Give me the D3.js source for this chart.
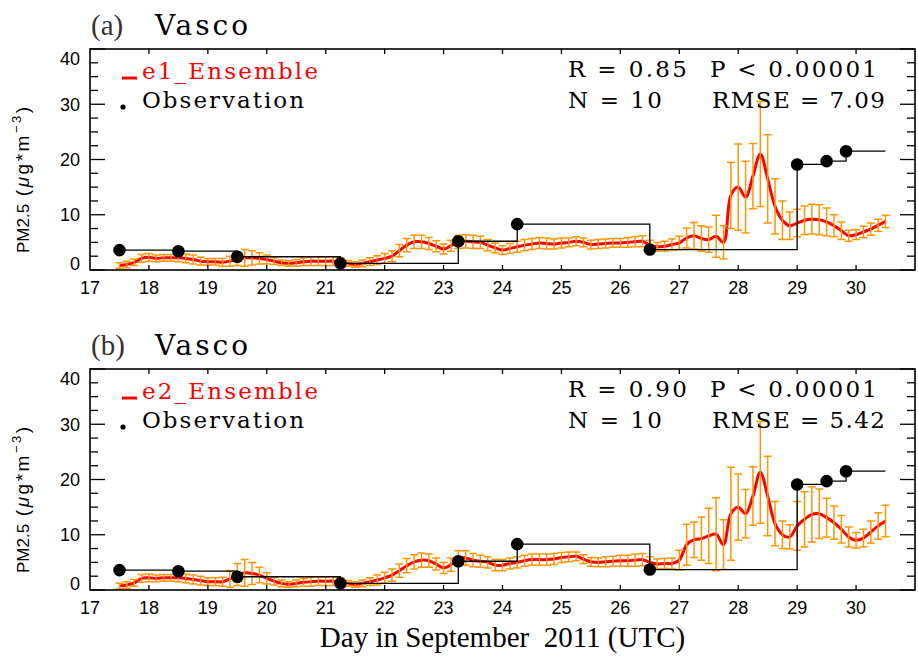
<!DOCTYPE html>
<html lang="en">
<head>
  <meta charset="utf-8">
  <title>PM2.5 Vasco</title>
  <script src="https://cdn.jsdelivr.net/npm/d3@7"></script>
  <style>
    body { margin: 0; background: #fff; }
  </style>
</head>
<body>
<script>
// ensemble output every 3 hours starting 17.5
var startDay = 17.5, stepDay = 3 / 24;

var e1Mean = [
  0.8, 1.0, 1.4, 2.1, 2.3, 2.1, 2.2, 2.2,
  2.2, 2.1, 1.9, 1.6, 1.5, 1.5, 1.4, 1.6,
  2.0, 2.2, 2.2, 2.1, 1.9, 1.6, 1.3, 1.2,
  1.3, 1.5, 1.6, 1.6, 1.6, 1.6, 1.5, 1.2,
  1.0, 1.2, 1.5, 1.8, 2.1, 2.5, 3.5, 4.5,
  5.1, 5.1, 4.8, 4.3, 3.8, 4.4, 5.1, 5.2,
  5.1, 5.0, 4.5, 4.0, 3.6, 3.9, 4.2, 4.5,
  4.7, 4.9, 4.8, 4.7, 4.9, 5.0, 5.2, 5.0,
  4.6, 4.7, 4.8, 4.9, 4.9, 5.0, 5.1, 5.2,
  4.5, 4.2, 4.3, 4.6, 4.9, 5.8, 6.2, 5.7,
  5.5, 6.1, 5.0, 13.5, 15.0, 13.2, 17.0, 21.0,
  16.5, 11.5, 9.0, 8.0, 8.5, 9.0, 9.2, 9.1,
  8.7, 8.0, 7.1, 6.2, 6.4, 6.9, 7.4, 8.1,
  8.8
];
var e1Err = [
  0.5, 0.6, 0.6, 0.7, 0.7, 0.6, 0.6, 0.6,
  0.7, 0.8, 0.8, 0.7, 0.6, 0.6, 0.7, 0.9,
  1.2, 1.5, 1.3, 1.0, 0.8, 0.6, 0.5, 0.5,
  0.6, 0.7, 0.8, 0.8, 0.8, 0.8, 0.7, 0.5,
  0.5, 0.6, 0.7, 0.8, 0.9, 1.0, 1.1, 1.2,
  1.2, 1.2, 1.1, 1.0, 0.9, 1.0, 1.2, 1.2,
  1.2, 1.1, 1.0, 0.9, 0.8, 0.9, 1.0, 1.0,
  1.0, 1.0, 1.0, 0.9, 0.9, 0.8, 0.8, 0.8,
  0.8, 0.8, 0.8, 0.8, 0.8, 0.9, 0.9, 1.0,
  0.9, 0.8, 0.9, 1.0, 1.2, 1.8, 2.4, 2.3,
  2.3, 3.8, 3.0, 6.0, 7.8, 6.5, 5.9, 9.5,
  8.0, 5.0, 3.5, 2.5, 2.5, 2.6, 2.7, 2.7,
  2.5, 2.0, 1.6, 1.0, 0.9, 1.0, 1.1, 1.1,
  1.1
];
var e2Mean = [
  0.7, 0.9, 1.3, 2.1, 2.2, 2.1, 2.2, 2.2,
  2.2, 2.1, 1.9, 1.7, 1.5, 1.5, 1.5, 2.0,
  2.8, 3.1, 3.0, 2.7, 2.1, 1.6, 1.2, 1.0,
  1.2, 1.4, 1.5, 1.6, 1.6, 1.6, 1.5, 1.2,
  1.0, 1.2, 1.5, 1.8, 2.2, 2.7, 3.5, 4.4,
  5.1, 5.4, 5.3, 4.7, 4.0, 4.6, 5.8, 5.8,
  5.4, 5.2, 5.0, 4.5, 4.5, 4.8, 5.0, 5.3,
  5.5, 5.5, 5.5, 5.6, 5.9, 6.0, 6.1, 5.6,
  5.1, 5.0, 5.1, 5.2, 5.3, 5.3, 5.4, 5.5,
  5.0, 4.7, 4.8, 4.8, 5.4, 8.2, 9.1, 9.3,
  9.8, 10.1, 8.2, 13.8, 15.0, 13.8, 17.0, 21.3,
  17.0, 12.0, 10.0, 9.6, 11.6, 12.8, 13.7, 13.8,
  13.1, 12.2, 11.0, 9.6, 9.0, 9.4, 10.5, 11.6,
  12.5
];
var e2Err = [
  0.5, 0.6, 0.6, 0.7, 0.7, 0.6, 0.6, 0.6,
  0.7, 0.8, 0.8, 0.8, 0.7, 0.7, 0.8, 1.5,
  2.0, 2.4, 2.0, 1.4, 1.0, 0.7, 0.6, 0.5,
  0.6, 0.7, 0.8, 0.8, 0.8, 0.8, 0.7, 0.5,
  0.5, 0.6, 0.7, 0.9, 1.0, 1.1, 1.2, 1.3,
  1.3, 1.3, 1.2, 1.1, 1.0, 1.2, 1.3, 1.3,
  1.2, 1.1, 1.0, 1.0, 1.0, 1.0, 1.0, 1.0,
  1.0, 1.0, 1.0, 1.0, 0.9, 0.9, 0.8, 0.8,
  0.8, 0.8, 0.9, 0.9, 1.0, 1.0, 1.1, 1.1,
  1.0, 0.9, 0.9, 1.0, 1.8, 3.7, 3.2, 3.9,
  5.0, 6.6, 4.5, 8.4, 6.0, 4.4, 5.3, 9.2,
  7.2, 4.0, 2.5, 2.2, 4.4, 5.0, 5.0, 4.5,
  3.5, 3.0, 2.5, 1.8, 1.4, 1.6, 2.0, 2.4,
  2.85
];

// observations (same for both panels)
var obsDay = [17.5, 18.5, 19.5, 21.25, 23.25, 24.25, 26.5, 29.0, 29.5, 29.83];
var obsVal = [3.6, 3.4, 2.4, 1.2, 5.2, 8.3, 3.7, 19.1, 19.7, 21.5];
var obsEnd = 30.5;

var xTicks = [17, 18, 19, 20, 21, 22, 23, 24, 25, 26, 27, 28, 29, 30];
var yTicks = [0, 10, 20, 30, 40];

var panels = [
  { tag: "(a)", site: "Vasco", name: "e1_Ensemble", mean: e1Mean, err: e1Err,
    r: "R = 0.85", p: "P < 0.00001", n: "N = 10", rmse: "RMSE = 7.09" },
  { tag: "(b)", site: "Vasco", name: "e2_Ensemble", mean: e2Mean, err: e2Err,
    r: "R = 0.90", p: "P < 0.00001", n: "N = 10", rmse: "RMSE = 5.42" }
];

var width = 918, height = 656;
var left = 90, right = 915, top0 = 49, panelH = 221, panelGap = 320;

var svg = d3.select("body").append("svg")
    .attr("width", width)
    .attr("height", height);

var x = d3.scaleLinear().domain([17, 31]).range([left, right]);
var y = d3.scaleLinear().domain([0, 40]).range([panelH, 0]);

var serif = "'DejaVu Serif', serif";
var sans = "'Liberation Sans', Arial, sans-serif";
var orange = "#ff9505";

// wide, evenly spaced serif text like the plotting package's vector font
function wideText(g, tx, ty, str, len, size, color) {
  return g.append("text").attr("x", tx).attr("y", ty)
    .attr("font-family", serif).attr("font-size", size)
    .attr("fill", color || "#000")
    .attr("textLength", len).attr("lengthAdjust", "spacing")
    .attr("xml:space", "preserve")
    .text(str);
}

panels.forEach(function(p, pi) {
  var g = svg.append("g").attr("transform", "translate(0," + (top0 + pi * panelGap) + ")");

  var pts = p.mean.map(function(v, i) {
    return { day: startDay + i * stepDay, v: v, e: p.err[i] };
  });

  // title
  g.append("text").attr("x", 91).attr("y", -14)
    .attr("font-family", "'Liberation Serif', serif").attr("font-size", 29)
    .attr("fill", "#333").text(p.tag);
  wideText(g, 155, -14, p.site, 93, 28);

  // ensemble line
  var line = d3.line()
      .x(function(d) { return x(d.day); })
      .y(function(d) { return y(d.v); })
      .curve(d3.curveCatmullRom);
  g.append("path").datum(pts)
    .attr("d", line)
    .attr("fill", "none")
    .attr("stroke", "#ff0000")
    .attr("stroke-width", 3);

  // error bars
  var eb = g.append("g").attr("stroke", orange).attr("stroke-width", 1.5).attr("fill", "none");
  eb.selectAll("path").data(pts).enter().append("path")
    .attr("d", function(d) {
      var cx = x(d.day), y1 = y(d.v + d.e), y2 = y(Math.max(0, d.v - d.e));
      return "M" + cx + "," + y1 + "V" + y2 +
             "M" + (cx - 4) + "," + y1 + "H" + (cx + 4) +
             "M" + (cx - 4) + "," + y2 + "H" + (cx + 4);
    });

  // observations step line
  var obs = obsDay.map(function(d, i) { return { day: d, v: obsVal[i] }; });
  var stepPts = obs.concat([{ day: obsEnd, v: obsVal[obsVal.length - 1] }]);
  g.append("path").datum(stepPts)
    .attr("d", d3.line()
      .x(function(d) { return x(d.day); })
      .y(function(d) { return y(d.v); })
      .curve(d3.curveStepAfter))
    .attr("fill", "none")
    .attr("stroke", "#000")
    .attr("stroke-width", 1.3);

  g.selectAll("circle.obs").data(obs).enter().append("circle")
    .attr("class", "obs")
    .attr("cx", function(d) { return x(d.day); })
    .attr("cy", function(d) { return y(d.v); })
    .attr("r", 6.3)
    .attr("fill", "#000");

  // frame
  g.append("rect").attr("x", left).attr("y", 0)
    .attr("width", right - left).attr("height", panelH)
    .attr("fill", "none").attr("stroke", "#000").attr("stroke-width", 1.6);

  // x ticks (bottom and top, inward)
  var xt = g.append("g").attr("stroke", "#000").attr("stroke-width", 1.3);
  xt.selectAll("line.b").data(xTicks.slice(1)).enter().append("line")
    .attr("x1", function(d) { return x(d); }).attr("x2", function(d) { return x(d); })
    .attr("y1", panelH).attr("y2", panelH - 5);
  xt.selectAll("line.t").data(xTicks.slice(1)).enter().append("line")
    .attr("x1", function(d) { return x(d); }).attr("x2", function(d) { return x(d); })
    .attr("y1", 0).attr("y2", 5);

  g.selectAll("text.xl").data(xTicks).enter().append("text")
    .attr("class", "xl")
    .attr("x", function(d) { return x(d); })
    .attr("y", panelH + 24)
    .attr("text-anchor", "middle")
    .attr("font-family", sans)
    .attr("font-size", 18)
    .text(function(d) { return d; });

  // y ticks, major and minor, on both sides
  var minor = d3.range(0, 40.01, 2.5);
  var yt = g.append("g").attr("stroke", "#000").attr("stroke-width", 1.3);
  yt.selectAll("line.l").data(minor).enter().append("line")
    .attr("x1", left).attr("x2", function(d) { return left + (d % 10 === 0 ? 15 : 8); })
    .attr("y1", function(d) { return y(d); }).attr("y2", function(d) { return y(d); });
  yt.selectAll("line.r").data(minor).enter().append("line")
    .attr("x1", right).attr("x2", function(d) { return right - (d % 10 === 0 ? 15 : 8); })
    .attr("y1", function(d) { return y(d); }).attr("y2", function(d) { return y(d); });

  g.selectAll("text.yl").data(yTicks).enter().append("text")
    .attr("class", "yl")
    .attr("x", 80)
    .attr("y", function(d) {
      var yy = y(d) + 6.5;
      if (d === 40) yy += 9;
      if (d === 0) yy -= 7;
      return yy;
    })
    .attr("text-anchor", "end")
    .attr("font-family", sans)
    .attr("font-size", 18)
    .text(function(d) { return d; });

  // y title, runs upward from the panel bottom
  var yl = g.append("text")
    .attr("transform", "translate(29,204) rotate(-90)")
    .attr("font-family", sans)
    .attr("font-size", 17)
    .attr("xml:space", "preserve");
  yl.append("tspan").text("PM2.5 ");
  var unit = yl.append("tspan").attr("dx", 3).attr("font-size", 19).attr("letter-spacing", 2.5);
  unit.append("tspan").text("(");
  unit.append("tspan").attr("font-style", "italic").text("\u03bc");
  unit.append("tspan").text("g*m");
  unit.append("tspan").attr("dy", -8).attr("font-size", 13).text("\u22123");
  unit.append("tspan").attr("dy", 8).text(")");

  // legend
  g.append("line").attr("x1", 122).attr("x2", 137).attr("y1", 29).attr("y2", 29)
    .attr("stroke", "#ff0000").attr("stroke-width", 3);
  wideText(g, 142, 30, p.name, 176, 23, "#ff0000");
  g.append("circle").attr("cx", 123).attr("cy", 58).attr("r", 2.6).attr("fill", "#000");
  wideText(g, 142, 59, "Observation", 162, 23);

  // stats
  wideText(g, 568, 28, p.r, 119, 23);
  wideText(g, 710, 28, p.p, 167, 23);
  wideText(g, 568, 59, p.n, 94, 23);
  wideText(g, 712, 59, p.rmse, 173, 23);
});

svg.append("text")
  .attr("x", (left + right) / 2)
  .attr("y", 647)
  .attr("text-anchor", "middle")
  .attr("font-family", "'Liberation Serif', serif")
  .attr("font-size", 29)
  .attr("xml:space", "preserve")
  .text("Day in September  2011 (UTC)");
</script>
</body>
</html>
